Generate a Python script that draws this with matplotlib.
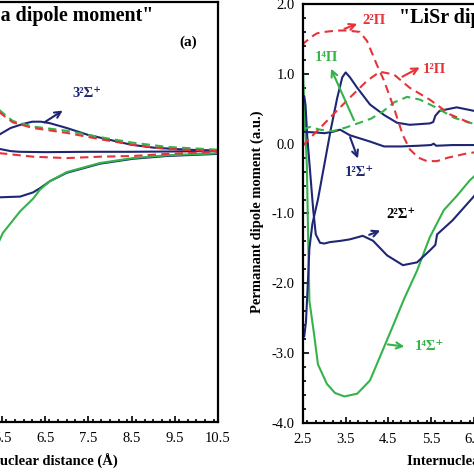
import numpy as np
import matplotlib
matplotlib.use("Agg")
import matplotlib.pyplot as plt
from matplotlib.ticker import MultipleLocator

plt.rcParams['font.family'] = ['Liberation Serif', 'DejaVu Serif']

navy = '#1f2774'
red = '#e5333a'
green = '#35b34a'

# ---- panel (a) data (only the right part is visible) ----
a_x3 = [5.0, 5.3, 5.45, 5.7, 6.0, 6.2, 6.4, 6.6, 7.0, 7.5, 8.0, 8.5, 9.0, 9.5, 10.0, 10.5]
a_y3 = [-0.02, 0.06, 0.11, 0.2, 0.26, 0.29, 0.29, 0.27, 0.2, 0.1, 0.03, -0.04, -0.08, -0.1, -0.115, -0.12]

a_xflat = [5.0, 5.45, 5.7, 5.9, 6.5, 7.5, 8.5, 9.5, 10.5]
a_yflat = [-0.06, -0.1, -0.13, -0.14, -0.145, -0.14, -0.14, -0.135, -0.13]

a_xdash = [5.0, 5.45, 5.75, 6.22, 7.0, 7.77, 8.53, 9.32, 10.5]
a_yred1 = [0.75, 0.42, 0.28, 0.2, 0.13, 0.04, -0.04, -0.1, -0.13]
a_ygreen1 = [0.78, 0.45, 0.3, 0.22, 0.16, 0.07, -0.01, -0.07, -0.11]

a_xred2 = [5.0, 5.45, 6.22, 7.0, 7.77, 8.53, 9.32, 10.5]
a_yred2 = [-0.13, -0.16, -0.21, -0.23, -0.21, -0.2, -0.17, -0.14]

a_xnavy = [5.0, 5.45, 5.92, 6.22, 6.38, 6.61, 7.0, 7.77, 8.53, 9.32, 10.5]
a_ynavy = [-0.8, -0.79, -0.78, -0.72, -0.66, -0.56, -0.44, -0.31, -0.24, -0.2, -0.17]

a_xgreen = [5.0, 5.3, 5.52, 5.92, 6.22, 6.38, 6.61, 7.0, 7.77, 8.53, 9.32, 10.5]
a_ygreen = [-2.0, -1.6, -1.3, -0.99, -0.81, -0.68, -0.56, -0.43, -0.3, -0.23, -0.19, -0.16]

# ---- panel (b) data (only the left part is visible) ----
b_x22pi = [2.5, 2.52, 2.75, 2.83, 3.0, 3.3, 3.53, 3.83, 4.0, 4.23, 4.4, 4.63, 4.84, 5.0, 5.2, 5.4, 5.64, 5.9, 6.34, 6.8]
b_y22pi = [1.4, 1.44, 1.55, 1.58, 1.6, 1.62, 1.62, 1.6, 1.47, 1.13, 0.9, 0.51, 0.12, -0.08, -0.2, -0.25, -0.25, -0.2, -0.14, -0.1]

b_x12pi = [2.5, 2.6, 2.83, 3.13, 3.6, 4.0, 4.3, 4.63, 5.0, 5.47, 5.94, 6.4, 6.8]
b_y12pi = [-0.03, 0.04, 0.18, 0.37, 0.66, 0.9, 1.03, 0.99, 0.8, 0.63, 0.42, 0.3, 0.2]

b_x14pi = [2.5, 2.66, 2.9, 3.2, 3.5, 3.83, 4.1, 4.37, 4.63, 4.94, 5.24, 5.64, 6.04, 6.4, 6.8]
b_y14pi = [0.2, 0.24, 0.2, 0.18, 0.23, 0.3, 0.36, 0.46, 0.59, 0.67, 0.63, 0.51, 0.37, 0.3, 0.25]

b_x32s = [2.5, 2.53, 2.57, 2.61, 2.65, 2.72, 2.85, 3.0, 3.15, 3.3, 3.42, 3.5, 3.6, 3.77, 4.07, 4.4, 4.7, 5.0, 5.47, 5.55, 5.6, 5.7, 6.1, 6.5, 6.9]
b_y32s = [-2.78, -2.76, -2.55, -2.05, -1.5, -1.15, -0.8, -0.3, 0.2, 0.65, 0.95, 1.02, 0.95, 0.8, 0.56, 0.41, 0.3, 0.27, 0.29, 0.31, 0.4, 0.47, 0.52, 0.47, 0.42]

b_x22s = [2.5, 2.53, 2.56, 2.6, 2.68, 2.74, 2.8, 2.9, 3.0, 3.13, 3.4, 3.6, 3.9, 4.14, 4.47, 4.84, 5.17, 5.47, 5.6, 5.64, 6.0, 6.48, 6.9]
b_y22s = [0.6, 0.68, 0.55, 0.1, -0.5, -0.95, -1.3, -1.42, -1.43, -1.41, -1.39, -1.37, -1.32, -1.39, -1.6, -1.74, -1.7, -1.53, -1.45, -1.3, -1.1, -0.77, -0.45]

b_x14s = [2.5, 2.53, 2.59, 2.62, 2.65, 2.76, 2.85, 3.06, 3.25, 3.47, 3.77, 4.07, 4.4, 4.6, 4.87, 5.17, 5.47, 5.8, 6.1, 6.4, 6.8]
b_y14s = [1.05, 0.5, -0.3, -1.3, -2.25, -2.73, -3.16, -3.44, -3.57, -3.62, -3.58, -3.39, -2.91, -2.62, -2.22, -1.82, -1.34, -0.95, -0.75, -0.53, -0.3]

b_x12s = [2.5, 2.8, 3.0, 3.2, 3.37, 3.6, 4.07, 4.4, 4.8, 5.2, 5.5, 5.56, 5.62, 6.0, 6.5, 6.9]
b_y12s = [0.17, 0.16, 0.15, 0.17, 0.2, 0.12, 0.03, -0.04, -0.04, -0.03, -0.02, 0.0, -0.03, -0.02, -0.02, -0.02]

xticks = [2.5, 3.5, 4.5, 5.5, 6.5, 7.5, 8.5, 9.5, 10.5]
yticks = [-4.0, -3.0, -2.0, -1.0, 0.0, 1.0, 2.0]

fig = plt.figure(figsize=(4.74, 4.74), dpi=100)
ax1 = fig.add_axes([-0.2692, 0.1097, 0.729, 0.8861])
ax2 = fig.add_axes([0.6392, 0.1076, 0.7207, 0.8840])

lw = 1.5
dash = (0, (4, 2.5))

# panel (a)
ax1.plot(a_x3, a_y3, color=navy, lw=lw)
ax1.plot(a_xflat, a_yflat, color=navy, lw=lw)
ax1.plot(a_xnavy, a_ynavy, color=navy, lw=lw)
ax1.plot(a_xgreen, a_ygreen, color=green, lw=lw)
ax1.plot(a_xdash, a_ygreen1, color=green, lw=lw, linestyle=dash)
ax1.plot(a_xdash, a_yred1, color=red, lw=lw, linestyle=dash)
ax1.plot(a_xred2, a_yred2, color=red, lw=lw, linestyle=dash)

# panel (b)
ax2.plot(b_x14s, b_y14s, color=green, lw=lw)
ax2.plot(b_x32s, b_y32s, color=navy, lw=lw)
ax2.plot(b_x22s, b_y22s, color=navy, lw=lw)
ax2.plot(b_x12s, b_y12s, color=navy, lw=lw)
ax2.plot(b_x14pi, b_y14pi, color=green, lw=lw, linestyle=dash)
ax2.plot(b_x12pi, b_y12pi, color=red, lw=lw, linestyle=dash)
ax2.plot(b_x22pi, b_y22pi, color=red, lw=lw, linestyle=dash)

for ax in (ax1, ax2):
    ax.set_xlim(2.5, 10.5)
    ax.set_ylim(-4.0, 2.0)
    ax.set_xticks(xticks)
    ax.set_xticklabels(["%.1f" % v for v in xticks])
    ax.set_yticks(yticks)
    ax.set_yticklabels(["%.1f" % v for v in yticks])
    ax.xaxis.set_minor_locator(MultipleLocator(0.2))
    ax.yaxis.set_minor_locator(MultipleLocator(0.2))
    ax.tick_params(which='both', direction='in', top=False, right=False,
                   labelsize=10.5, width=1.2)
    ax.tick_params(which='major', length=4)
    ax.tick_params(which='minor', length=2.5)
    ax.tick_params(axis='x', pad=7)
    ax.tick_params(axis='y', pad=6)
    for s in ax.spines.values():
        s.set_linewidth(1.6)

# titles
ax1.text(0.812, 0.967, '"LiCa dipole moment"', transform=ax1.transAxes,
         ha='right', va='center', fontsize=14.4, fontweight='bold')
ax1.text(0.913, 0.905, '(a)', transform=ax1.transAxes,
         ha='center', va='center', fontsize=11, fontweight='bold')
ax2.text(0.281, 0.967, '"LiSr dipole moment"', transform=ax2.transAxes,
         ha='left', va='center', fontsize=14.4, fontweight='bold')

# axis labels
fig.text(118 / 474, 1 - 461 / 474, 'Internuclear distance (Å)', ha='right', va='center',
         fontsize=10.5, fontweight='bold')
fig.text(407 / 474, 1 - 461 / 474, 'Internuclear distance (Å)', ha='left', va='center',
         fontsize=10.5, fontweight='bold')
fig.text(257 / 474, 1 - 212 / 474, 'Permanant dipole moment (a.u.)', ha='center', va='center',
         rotation=90, fontsize=10.5, fontweight='bold')

def label(ax, text, xy_text, tail, head, color, tcolor=None):
    ax.annotate('', xy=head, xytext=tail,
                arrowprops=dict(arrowstyle='->', color=color, lw=1.5, mutation_scale=11))
    ax.text(xy_text[0], xy_text[1], text, color=tcolor or color, ha='center', va='center',
            fontsize=10.5, fontweight='bold')

label(ax1, '3²Σ⁺', (7.47, 0.69), (6.43, 0.26), (6.96, 0.47), navy)
label(ax2, '2²Π', (4.17, 1.77), (3.41, 1.63), (3.83, 1.73), red)
label(ax2, '1²Π', (5.57, 1.06), (4.77, 0.94), (5.29, 1.11), red)
label(ax2, '1⁴Π', (3.06, 1.23), (3.72, 0.3), (3.13, 1.11), green)
label(ax2, '1²Σ⁺', (3.81, -0.41), (3.58, 0.13), (3.81, -0.25), navy)
label(ax2, '2²Σ⁺', (4.8, -1.02), (3.99, -1.32), (4.37, -1.23), navy, 'black')
label(ax2, '1⁴Σ⁺', (5.47, -2.91), (4.42, -2.87), (4.94, -2.91), green)

plt.savefig("out.png", dpi=100)
